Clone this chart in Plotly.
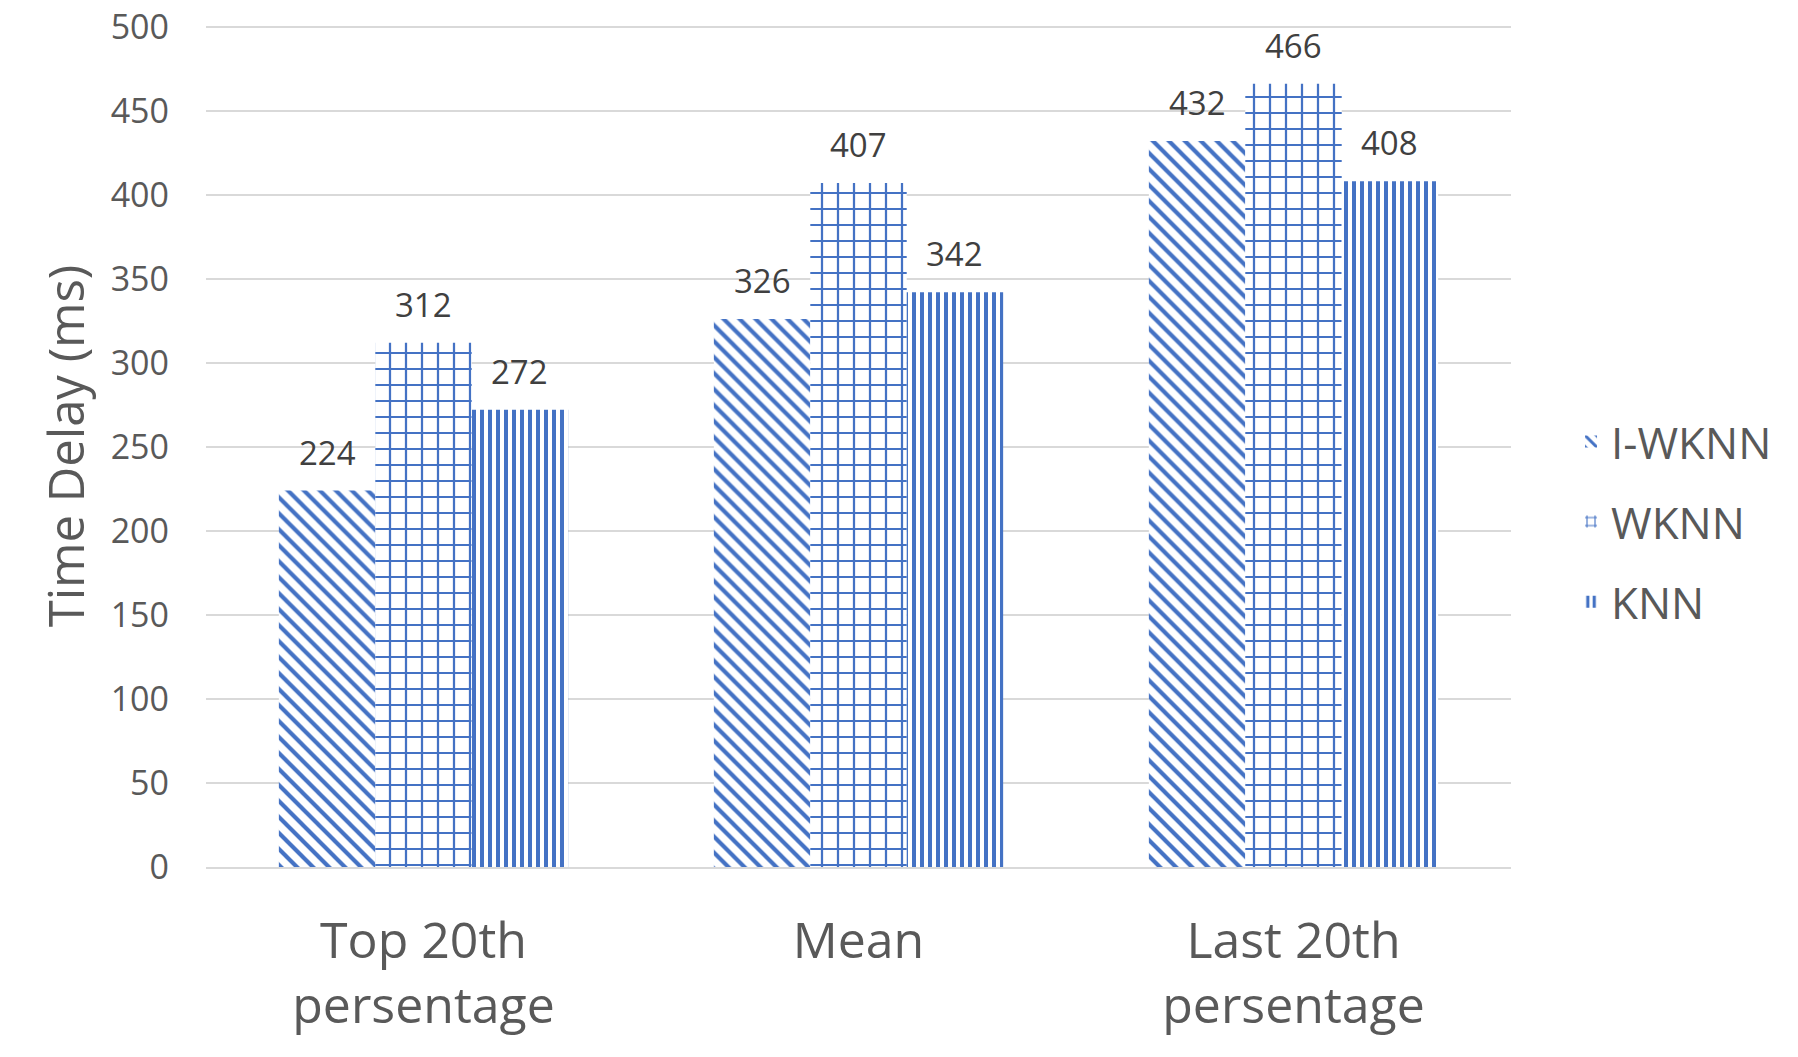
import plotly.graph_objects as go

categories = ["Top 20th<br>persentage", "Mean", "Last 20th<br>persentage"]
series_names = ["I-WKNN", "WKNN", "KNN"]
i_wknn = [224, 326, 432]
wknn = [312, 407, 466]
knn = [272, 342, 408]
y_ticks = [0, 50, 100, 150, 200, 250, 300, 350, 400, 450, 500]

BLUE = "#4472C4"
FONT = "Open Sans"

patterns = [
    dict(shape="\\", size=11.3, solidity=0.37),
    dict(shape="+", size=16, solidity=0.26),
    dict(shape="|", size=8, solidity=0.5),
]
values = [i_wknn, wknn, knn]

fig = go.Figure()
for k, (name, vals, pat) in enumerate(zip(series_names, values, patterns)):
    fig.add_trace(go.Bar(
        x=categories, y=vals, name=name, legendgroup=name,
        marker=dict(color="white", line=dict(width=0),
                    pattern=dict(fgcolor=BLUE, bgcolor="white", fillmode="replace", **pat)),
        hoverinfo="skip",
    ))

# data labels
offsets = [-96, 0, 96]
for vals, dx in zip(values, offsets):
    for c, v in zip(categories, vals):
        fig.add_annotation(x=c, y=v, text=str(v), showarrow=False, xshift=dx,
                           yanchor="bottom", yshift=14,
                           font=dict(family=FONT, size=33, color="#404040"))

fig.update_layout(
    width=1798, height=1057,
    margin=dict(l=206, r=287, t=25, b=190, autoexpand=False),
    paper_bgcolor="white", plot_bgcolor="white",
    barmode="group", bargap=0.335, bargroupgap=0,
    font=dict(family=FONT, color="#595959"),
    legend=dict(x=1.046, y=0.41, xanchor="left", yanchor="middle",
                font=dict(family=FONT, size=44, color="#595959"),
                tracegroupgap=20, itemwidth=30, bgcolor="rgba(0,0,0,0)"),
    showlegend=True,
)
fig.update_yaxes(range=[0, 501], tickvals=y_ticks, showgrid=True, gridcolor="#D9D9D9",
                 gridwidth=2, zeroline=False, showline=False, ticks="",
                 tickfont=dict(family=FONT, size=34, color="#595959"),
                 ticklabelstandoff=36, automargin=False, ticklabeloverflow="allow",
                 title=dict(text="Time Delay (ms)", font=dict(family=FONT, size=49, color="#595959"), standoff=10))
fig.update_xaxes(showline=True, linecolor="#D9D9D9", linewidth=2, ticks="",
                 tickfont=dict(family=FONT, size=50, color="#595959"),
                 ticklabelstandoff=29, automargin=False, ticklabeloverflow="allow")

fig.write_html("out.html", config={"displayModeBar": False},
               post_script="document.body.style.margin='0';")
